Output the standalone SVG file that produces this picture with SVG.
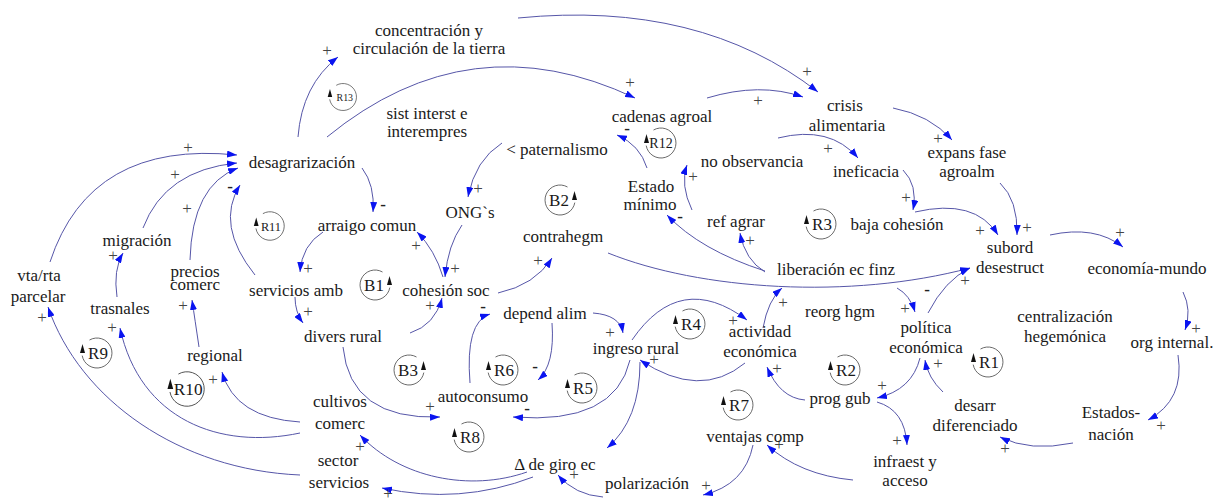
<svg xmlns="http://www.w3.org/2000/svg" width="1217" height="501" viewBox="0 0 1217 501" font-family="Liberation Serif, Times New Roman, serif">
  <defs>
    <marker id="ah" viewBox="0 0 10 7" refX="10" refY="3.5" markerWidth="10" markerHeight="7" markerUnits="userSpaceOnUse" orient="auto">
      <path d="M0,0 L10,3.5 L0,7 z" fill="#0a14f0"/>
    </marker>
    <!-- reinforcing loop symbol: arrow on the left, pointing up -->
    <g id="loopR">
      <path d="M-7.5,-13 A15,15 0 1 1 -14.8,2.6" fill="none" stroke="#444" stroke-width="0.8"/>
      <path d="M-14.5,-9 L-17,0 L-12,0 z" fill="#111"/>
    </g>
    <!-- balancing loop symbol: arrow on the right, pointing up -->
    <g id="loopB">
      <path d="M7.5,-13 A15,15 0 1 0 14.8,2.6" fill="none" stroke="#444" stroke-width="0.8"/>
      <path d="M14.5,-9 L12,0 L17,0 z" fill="#111"/>
    </g>
  </defs>
  <style>
    .n { font-size: 17px; fill: #1a1a1a; text-anchor: middle; }
    .s { font-size: 17px; fill: #444444; text-anchor: middle; }
    .m { font-weight: bold; fill: #222222; }
    .c path { fill: none; stroke: #5656a8; stroke-width: 1; marker-end: url(#ah); }
    .lt { fill: #1a1a1a; text-anchor: middle; }
  </style>
  <rect width="1217" height="501" fill="#ffffff"/>

  <!-- connectors -->
  <g id="connectors" class="c">
    <path d="M298,137 Q302,85 338,57"/>
    <path d="M327,137 Q470,20 635,98"/>
    <path d="M518,18 Q700,0 818,92"/>
    <path d="M707,98 Q760,82 803,97"/>
    <path d="M778,138 Q830,125 858,158"/>
    <path d="M893,108 Q930,115 952,140"/>
    <path d="M1000,183 Q1018,200 1017,235"/>
    <path d="M903,170 Q918,185 913,210"/>
    <path d="M915,212 Q975,198 998,235"/>
    <path d="M1050,235 Q1095,225 1123,247"/>
    <path d="M1183,292 Q1192,310 1185,330"/>
    <path d="M1178,355 Q1185,400 1148,420"/>
    <path d="M1073,443 Q1030,452 1000,437"/>
    <path d="M943,392 Q928,378 925,360"/>
    <path d="M920,358 Q912,390 877,398"/>
    <path d="M877,402 Q905,410 907,445"/>
    <path d="M853,480 Q800,475 767,445"/>
    <path d="M753,445 Q745,485 703,495"/>
    <path d="M603,497 Q575,495 558,475"/>
    <path d="M527,472 C470,492 400,478 360,435"/>
    <path d="M533,477 Q460,505 382,488"/>
    <path d="M640,362 Q640,420 607,448"/>
    <path d="M630,360 Q615,425 513,417"/>
    <path d="M632,340 Q680,270 747,320"/>
    <path d="M745,363 Q700,400 640,360"/>
    <path d="M763,328 Q768,300 782,288"/>
    <path d="M805,400 Q780,398 767,367"/>
    <path d="M897,288 Q910,295 915,312"/>
    <path d="M928,313 Q945,280 970,268"/>
    <path d="M608,253 C700,290 850,300 970,268"/>
    <path d="M765,272 Q745,260 740,233"/>
    <path d="M765,271 Q700,250 667,215"/>
    <path d="M692,210 Q680,185 687,165"/>
    <path d="M647,168 Q640,145 617,135"/>
    <path d="M502,143 Q475,160 468,197"/>
    <path d="M462,225 Q448,245 445,277"/>
    <path d="M443,277 Q435,250 417,232"/>
    <path d="M362,168 Q375,185 373,212"/>
    <path d="M323,232 Q302,245 300,272"/>
    <path d="M295,297 Q295,312 303,323"/>
    <path d="M410,333 Q435,325 442,298"/>
    <path d="M255,275 Q215,225 240,185"/>
    <path d="M190,260 Q192,185 238,168"/>
    <path d="M143,228 Q165,170 237,163"/>
    <path d="M50,262 Q90,140 237,155"/>
    <path d="M117,297 Q113,270 123,253"/>
    <path d="M300,433 C220,450 140,420 120,328"/>
    <path d="M300,422 Q235,418 222,372"/>
    <path d="M199,347 Q195,320 192,300"/>
    <path d="M300,475 C180,470 80,400 48,307"/>
    <path d="M343,347 Q350,420 440,417"/>
    <path d="M552,323 Q555,365 538,380"/>
    <path d="M470,383 Q465,322 490,314"/>
    <path d="M593,313 Q620,315 623,333"/>
    <path d="M498,293 Q535,285 552,258"/>
  </g>

  <!-- polarity signs -->
  <g id="polarities" class="s" font-family="Liberation Serif, serif">
    <text x="327" y="56">+</text>
    <text x="630" y="88">+</text>
    <text x="807" y="77">+</text>
    <text x="758" y="106">+</text>
    <text x="828" y="154">+</text>
    <text x="938" y="144">+</text>
    <text x="1027" y="233">+</text>
    <text x="906" y="203">+</text>
    <text x="980" y="236">+</text>
    <text x="1120" y="238">+</text>
    <text x="1196" y="334">+</text>
    <text x="1161" y="431">+</text>
    <text x="1005" y="454">+</text>
    <text x="938" y="369">+</text>
    <text x="882" y="391">+</text>
    <text x="897" y="446">+</text>
    <text x="779" y="450">+</text>
    <text x="706" y="491">+</text>
    <text x="574" y="480">+</text>
    <text x="360" y="452">+</text>
    <text x="388" y="499">+</text>
    <text x="733" y="326">+</text>
    <text x="654" y="365">+</text>
    <text x="783" y="308">+</text>
    <text x="777" y="374">+</text>
    <text x="905" y="314">+</text>
    <text x="965" y="286">+</text>
    <text x="750" y="246">+</text>
    <text x="693" y="182">+</text>
    <text x="478" y="194">+</text>
    <text x="455" y="274">+</text>
    <text x="416" y="251">+</text>
    <text x="308" y="274">+</text>
    <text x="308" y="317">+</text>
    <text x="430" y="311">+</text>
    <text x="187" y="214">+</text>
    <text x="175" y="180">+</text>
    <text x="188" y="153">+</text>
    <text x="113" y="261">+</text>
    <text x="112" y="333">+</text>
    <text x="213" y="385">+</text>
    <text x="183" y="311">+</text>
    <text x="42" y="323">+</text>
    <text x="430" y="412">+</text>
    <text x="610" y="338">+</text>
    <text x="538" y="266">+</text>
    <text class="m" x="527" y="414">-</text>
    <text class="m" x="927" y="295">-</text>
    <text class="m" x="680" y="222">-</text>
    <text class="m" x="627" y="134">-</text>
    <text class="m" x="383" y="210">-</text>
    <text class="m" x="230" y="192">-</text>
    <text class="m" x="535" y="372">-</text>
    <text class="m" x="483" y="312">-</text>
  </g>

  <!-- variables -->
  <g id="variables" font-family="Liberation Serif, serif">
  <g id="concentracion" class="n"><text x="429" y="36">concentración y</text><text x="429" y="54">circulación de la tierra</text></g>
  <g id="sist-interst" class="n"><text x="427" y="119">sist interst e</text><text x="427" y="137">interempres</text></g>
  <g id="paternalismo" class="n"><text x="557" y="155">&lt; paternalismo</text></g>
  <g id="desagrarizacion" class="n"><text x="302" y="168">desagrarización</text></g>
  <g id="cadenas-agroal" class="n"><text x="662" y="122">cadenas agroal</text></g>
  <g id="crisis-alimentaria" class="n"><text x="845" y="111">crisis</text><text x="847" y="131">alimentaria</text></g>
  <g id="expans-fase" class="n"><text x="967" y="158">expans fase</text><text x="967" y="177">agroalm</text></g>
  <g id="no-observancia" class="n"><text x="752" y="167">no observancia</text></g>
  <g id="ineficacia" class="n"><text x="866" y="177">ineficacia</text></g>
  <g id="estado-minimo" class="n"><text x="651" y="192">Estado</text><text x="650" y="210">mínimo</text></g>
  <g id="ref-agrar" class="n"><text x="736" y="227">ref agrar</text></g>
  <g id="baja-cohesion" class="n"><text x="897" y="230">baja cohesión</text></g>
  <g id="liberacion" class="n"><text x="836" y="275">liberación ec finz</text></g>
  <g id="subord" class="n"><text x="1010" y="253">subord</text><text x="1010" y="273">desestruct</text></g>
  <g id="economia-mundo" class="n"><text x="1147" y="274">economía-mundo</text></g>
  <g id="centralizacion" class="n"><text x="1065" y="322">centralización</text><text x="1065" y="342">hegemónica</text></g>
  <g id="org-internal" class="n"><text x="1172" y="348">org internal.</text></g>
  <g id="estados-nacion" class="n"><text x="1111" y="418">Estados-</text><text x="1111" y="440">nación</text></g>
  <g id="desarr" class="n"><text x="975" y="411">desarr</text><text x="975" y="431">diferenciado</text></g>
  <g id="politica" class="n"><text x="926" y="333">política</text><text x="926" y="353">económica</text></g>
  <g id="reorg-hgm" class="n"><text x="840" y="317">reorg hgm</text></g>
  <g id="actividad" class="n"><text x="760" y="337">actividad</text><text x="760" y="357">económica</text></g>
  <g id="ingreso-rural" class="n"><text x="636" y="354">ingreso rural</text></g>
  <g id="prog-gub" class="n"><text x="840" y="404">prog gub</text></g>
  <g id="ventajas-comp" class="n"><text x="755" y="442">ventajas comp</text></g>
  <g id="infraest" class="n"><text x="905" y="467">infraest y</text><text x="905" y="486">acceso</text></g>
  <g id="polarizacion" class="n"><text x="647" y="489">polarización</text></g>
  <g id="giro-ec" class="n"><text x="555" y="470">Δ de giro ec</text></g>
  <g id="sector-servicios" class="n"><text x="338" y="466">sector</text><text x="339" y="488">servicios</text></g>
  <g id="cultivos-comerc" class="n"><text x="340" y="407">cultivos</text><text x="340" y="429">comerc</text></g>
  <g id="autoconsumo" class="n"><text x="483" y="402">autoconsumo</text></g>
  <g id="divers-rural" class="n"><text x="343" y="342">divers rural</text></g>
  <g id="depend-alim" class="n"><text x="545" y="319">depend alim</text></g>
  <g id="cohesion-soc" class="n"><text x="446" y="296">cohesión soc</text></g>
  <g id="servicios-amb" class="n"><text x="296" y="296">servicios amb</text></g>
  <g id="arraigo-comun" class="n"><text x="367" y="231">arraigo comun</text></g>
  <g id="ongs" class="n"><text x="470" y="218">ONG`s</text></g>
  <g id="contrahegm" class="n"><text x="563" y="242">contrahegm</text></g>
  <g id="migracion" class="n"><text x="137" y="246">migración</text></g>
  <g id="vta-rta" class="n"><text x="39" y="281">vta/rta</text><text x="38" y="302">parcelar</text></g>
  <g id="trasnales" class="n"><text x="120" y="314">trasnales</text></g>
  <g id="precios-comerc" class="n"><text x="195" y="277">precios</text><text x="195" y="290">comerc</text></g>
  <g id="regional" class="n"><text x="215" y="361">regional</text></g>
  </g>

  <!-- loop markers -->
  <g id="loops" font-family="Liberation Serif, serif">
    <g transform="translate(343,97) scale(0.9)"><use href="#loopR"/><text class="lt" x="2" y="4" font-size="11">R13</text></g>
    <g transform="translate(661,143)"><use href="#loopR"/><text class="lt" x="0" y="5" font-size="14">R12</text></g>
    <g transform="translate(270,226) scale(0.95)"><use href="#loopR"/><text class="lt" x="1" y="5" font-size="13">R11</text></g>
    <g transform="translate(187,389) scale(1.15)"><use href="#loopR"/><text class="lt" x="1" y="5" font-size="15">R10</text></g>
    <g transform="translate(97,353)"><use href="#loopR"/><text class="lt" x="1" y="6" font-size="17">R9</text></g>
    <g transform="translate(469,437)"><use href="#loopR"/><text class="lt" x="1" y="6" font-size="17">R8</text></g>
    <g transform="translate(738,405)"><use href="#loopR"/><text class="lt" x="1" y="6" font-size="17">R7</text></g>
    <g transform="translate(503,370)"><use href="#loopR"/><text class="lt" x="1" y="6" font-size="17">R6</text></g>
    <g transform="translate(582,388)"><use href="#loopR"/><text class="lt" x="1" y="6" font-size="17">R5</text></g>
    <g transform="translate(690,324)"><use href="#loopR"/><text class="lt" x="1" y="6" font-size="17">R4</text></g>
    <g transform="translate(821,224)"><use href="#loopR"/><text class="lt" x="1" y="6" font-size="17">R3</text></g>
    <g transform="translate(845,370)"><use href="#loopR"/><text class="lt" x="1" y="6" font-size="17">R2</text></g>
    <g transform="translate(988,362)"><use href="#loopR"/><text class="lt" x="1" y="6" font-size="17">R1</text></g>
    <g transform="translate(375,285)"><use href="#loopB"/><text class="lt" x="-1" y="6" font-size="17">B1</text></g>
    <g transform="translate(560,200)"><use href="#loopB"/><text class="lt" x="-1" y="6" font-size="17">B2</text></g>
    <g transform="translate(409,370)"><use href="#loopB"/><text class="lt" x="-1" y="6" font-size="17">B3</text></g>
  </g>
</svg>
